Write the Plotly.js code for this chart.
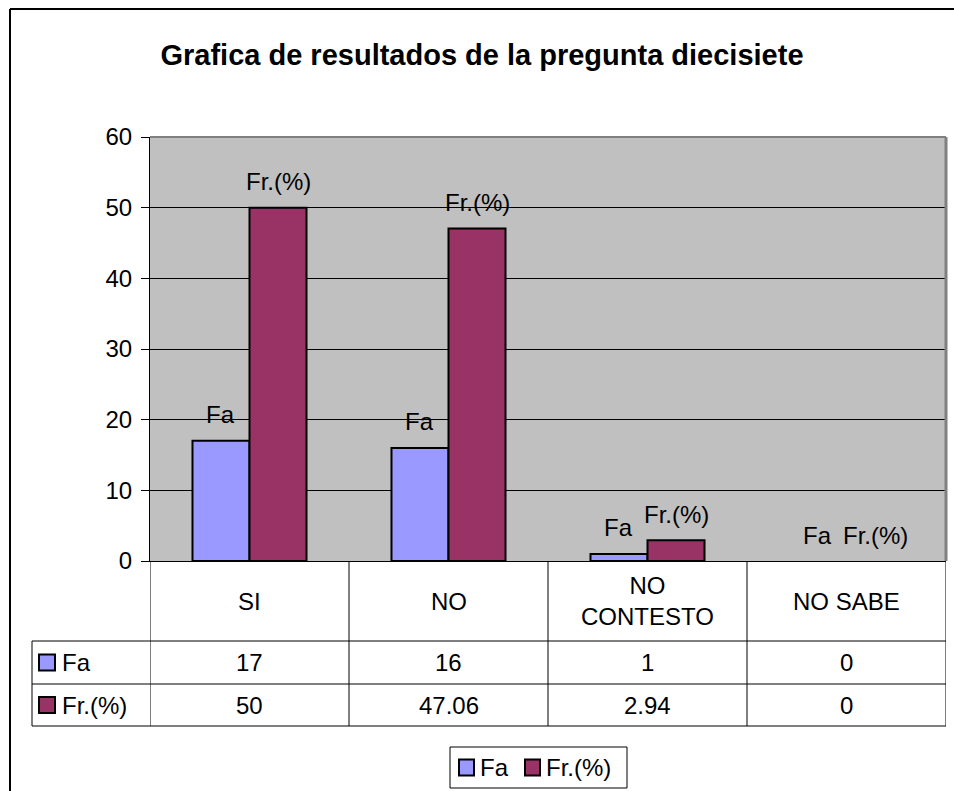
<!DOCTYPE html>
<html>
<head>
<meta charset="utf-8">
<script src="https://cdn.plot.ly/plotly-3.0.1.min.js"></script>
<style>html,body{margin:0;padding:0;background:#fff;}#chart{width:954px;height:791px;}</style>
</head>
<body>
<div id="chart"></div>
<script>
// ---- data ----
const categories = ["SI", "NO", "NO CONTESTO", "NO SABE"];
const categoryLabels = ["SI", "NO", "NO<br>CONTESTO", "NO SABE"];
const seriesNames = ["Fa", "Fr.(%)"];
const faValues = [17, 16, 1, 0];
const frValues = [50, 47.06, 2.94, 0];
const yTicks = [0, 10, 20, 30, 40, 50, 60];
const titleText = "Grafica de resultados de la pregunta diecisiete";

// ---- styles ----
const FONT = "Liberation Sans, Arial, Helvetica, sans-serif";
const FS = 24;
const colors = ["#9999FF", "#993366"];
const W = 954, H = 791;
const PL = 150, PR = 946, PT = 137, PB = 561;
const pw = PR - PL, ph = PB - PT;
const px = v => (v - PL) / pw;          // pixel x -> paper x
const py = v => (PB - v) / ph;          // pixel y -> paper y

const bargap = 0.427;
const half = (1 - bargap) / 4;          // offset of each bar centre from category centre
const series = [faValues, frValues];

const traces = series.map((vals, s) => ({
  type: "bar",
  name: seriesNames[s],
  x: categories,
  y: vals,
  marker: { color: colors[s], line: { color: "#000", width: vals.map(v => (v === 0 ? 0 : 2)) } },
  hoverinfo: "skip"
}));

const shapes = [];
const annotations = [];

// data labels above bars (series name)
series.forEach((vals, s) => {
  vals.forEach((v, i) => {
    annotations.push({
      xref: "x", yref: "y",
      x: i + (s === 0 ? -half : half), y: v,
      text: seriesNames[s], showarrow: false,
      xanchor: "center", yanchor: "middle", yshift: 26,
      font: { family: FONT, size: FS, color: "#000" }
    });
  });
});

// plot-area grey border (top and right)
shapes.push({ type: "line", xref: "paper", yref: "paper", x0: 0, x1: 1, y0: 1, y1: 1, line: { color: "#808080", width: 2 } });
shapes.push({ type: "line", xref: "paper", yref: "paper", x0: 1, x1: 1, y0: 0, y1: 1, line: { color: "#808080", width: 3 } });

// outer chart border (top and left)
shapes.push({ type: "line", xref: "paper", yref: "paper", x0: px(10), x1: px(960), y0: py(9), y1: py(9), line: { color: "#000", width: 2 } });
shapes.push({ type: "line", xref: "paper", yref: "paper", x0: px(10), x1: px(10), y0: py(9), y1: py(800), line: { color: "#000", width: 2 } });

// data table
const rowTop = [561, 641, 684, 726];
const tableLeft = 32;
for (let i = 0; i <= categories.length; i++) {
  shapes.push({ type: "line", xref: "x", yref: "paper", x0: i - 0.5, x1: i - 0.5, y0: 0, y1: py(rowTop[3]), line: { color: "#000", width: 1 } });
}
[1, 2, 3].forEach(r => {
  shapes.push({ type: "line", xref: "paper", yref: "paper", x0: px(tableLeft), x1: 1, y0: py(rowTop[r]), y1: py(rowTop[r]), line: { color: "#000", width: 1 } });
});
shapes.push({ type: "line", xref: "paper", yref: "paper", x0: px(tableLeft), x1: px(tableLeft), y0: py(rowTop[1]), y1: py(rowTop[3]), line: { color: "#000", width: 1 } });

// header labels
categoryLabels.forEach((c, i) => {
  annotations.push({ xref: "x", yref: "paper", x: i, y: py((rowTop[0] + rowTop[1]) / 2), text: c, showarrow: false,
    xanchor: "center", yanchor: "middle", font: { family: FONT, size: FS, color: "#000" } });
});
// rows
series.forEach((vals, s) => {
  const yc = py((rowTop[s + 1] + rowTop[s + 2]) / 2);
  vals.forEach((v, i) => {
    annotations.push({ xref: "x", yref: "paper", x: i, y: yc, text: String(v), showarrow: false,
      xanchor: "center", yanchor: "middle", font: { family: FONT, size: FS, color: "#000" } });
  });
  shapes.push({ type: "rect", xref: "paper", yref: "paper", x0: px(39), x1: px(55), y0: yc + 8 / ph, y1: yc - 8 / ph,
    fillcolor: colors[s], line: { color: "#000", width: 2 } });
  annotations.push({ xref: "paper", yref: "paper", x: px(60), y: yc, text: seriesNames[s], showarrow: false,
    xanchor: "left", yanchor: "middle", font: { family: FONT, size: FS, color: "#000" } });
});

// legend box below the table
const legBox = { x0: 450, x1: 627, y0: 747, y1: 788 };
const legKeys = [459, 525];
const legYc = (legBox.y0 + legBox.y1) / 2;
shapes.push({ type: "rect", xref: "paper", yref: "paper", x0: px(legBox.x0), x1: px(legBox.x1), y0: py(legBox.y0), y1: py(legBox.y1),
  fillcolor: "#fff", line: { color: "#000", width: 1 } });
seriesNames.forEach((n, s) => {
  shapes.push({ type: "rect", xref: "paper", yref: "paper", x0: px(legKeys[s]), x1: px(legKeys[s] + 15), y0: py(legYc - 8), y1: py(legYc + 8),
    fillcolor: colors[s], line: { color: "#000", width: 2 } });
  annotations.push({ xref: "paper", yref: "paper", x: px(legKeys[s] + 19), y: py(legYc), text: n, showarrow: false,
    xanchor: "left", yanchor: "middle", font: { family: FONT, size: FS, color: "#000" } });
});

const layout = {
  width: W, height: H,
  margin: { l: PL, r: W - PR, t: PT, b: H - PB, pad: 0, autoexpand: false },
  paper_bgcolor: "#ffffff",
  plot_bgcolor: "#C0C0C0",
  font: { family: FONT, color: "#000" },
  title: { text: "<b>" + titleText + "</b>", x: 482 / W, xanchor: "center", y: 1 - 55 / H, yanchor: "middle",
    xref: "container", yref: "container", font: { family: FONT, size: 29, color: "#000" } },
  barmode: "group", bargap: bargap, bargroupgap: 0,
  xaxis: { type: "category", range: [-0.5, 3.5], showticklabels: false, ticks: "", showgrid: false,
    showline: true, linecolor: "#000", linewidth: 1, zeroline: false, fixedrange: true },
  yaxis: { range: [0, 60], tickvals: yTicks, ticktext: yTicks.map(String), ticks: "outside", ticklen: 8, tickcolor: "#000",
    showline: true, linecolor: "#000", linewidth: 1, showgrid: true, gridcolor: "#000", gridwidth: 1, zeroline: false,
    tickfont: { family: FONT, size: FS, color: "#000" }, ticklabelstandoff: 4, fixedrange: true },
  showlegend: false,
  shapes: shapes,
  annotations: annotations
};

Plotly.newPlot("chart", traces, layout, { displayModeBar: false, staticPlot: true });
</script>
</body>
</html>
